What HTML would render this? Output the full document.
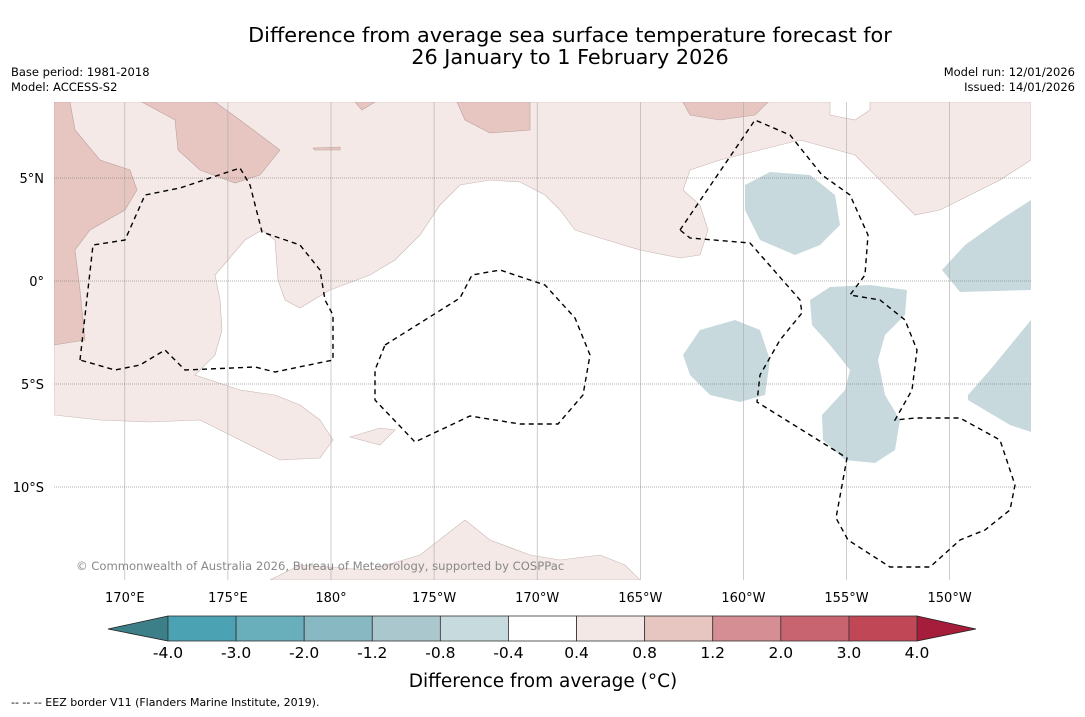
<!DOCTYPE html>
<html><head><meta charset="utf-8"><style>
body{margin:0;background:#fff;font-family:"DejaVu Sans","Liberation Sans",sans-serif}
svg text{font-family:"DejaVu Sans","Liberation Sans",sans-serif}
</style></head><body>
<svg id="s" width="1085" height="713" xmlns="http://www.w3.org/2000/svg">
<rect width="1085" height="713" fill="#fff"/>
<text x="570" y="42" font-size="20.8" text-anchor="middle">Difference from average sea surface temperature forecast for</text>
<text x="570" y="64" font-size="20.8" text-anchor="middle">26 January to 1 February 2026</text>
<text x="11" y="76" font-size="11.5">Base period: 1981-2018</text>
<text x="11" y="91" font-size="11.5">Model: ACCESS-S2</text>
<text x="1075" y="76" font-size="11.5" text-anchor="end">Model run: 12/01/2026</text>
<text x="1075" y="91" font-size="11.5" text-anchor="end">Issued: 14/01/2026</text>
<g id="map"></g>
<g id="cb"></g>
<text x="543" y="687" font-size="18.5" text-anchor="middle">Difference from average (°C)</text>
<text x="11" y="706" font-size="11">--  --  -- EEZ border V11 (Flanders Marine Institute, 2019).</text>
</svg>
<script>
const lonTicks=[170,175,180,185,190,195,200,205,210];
const lonLabels=["170°E","175°E","180°","175°W","170°W","165°W","160°W","155°W","150°W"];
const latTicks=[5,0,-5,-10];
const latLabels=["5°N","0°","5°S","10°S"];
const levels=["-4.0","-3.0","-2.0","-1.2","-0.8","-0.4","0.4","0.8","1.2","2.0","3.0","4.0"];
const levelColors=["#4aa2b2","#68aebb","#88b8c2","#a9c7cc","#c7dadd","#ffffff","#f4e8e6","#e7c5c0","#d68e95","#c8646f","#bf4756"];
const L=54,R=1031,T=102,B=580;
const lonX=l=>331+(l-180)*20.62, latY=l=>281-l*20.6;
const NS="http://www.w3.org/2000/svg";
const map=document.getElementById('map');
function mk(tag,attrs,parent){const e=document.createElementNS(NS,tag);for(const k in attrs)e.setAttribute(k,attrs[k]);parent.appendChild(e);return e;}
const lightPink=[[54,102],[830,102],[830,115],[855,120],[870,110],[870,102],[1031,102],[1031,160],[1000,180],[940,210],[915,215],[900,200],[855,155],[800,140],[760,150],[720,160],[690,170],[683,190],[700,205],[708,230],[700,255],[680,258],[640,250],[600,238],[575,230],[560,210],[545,195],[520,182],[490,180],[460,185],[440,205],[420,235],[395,260],[370,275],[330,290],[300,308],[285,300],[278,280],[275,240],[262,230],[245,240],[228,260],[215,275],[220,300],[222,330],[215,355],[195,375],[240,390],[275,395],[300,405],[320,420],[333,440],[320,458],[280,460],[240,440],[200,420],[150,422],[100,420],[54,415]];
const bottomPink=[[270,580],[300,565],[370,570],[420,555],[465,520],[490,540],[530,555],[560,560],[600,555],[625,565],[640,580]];
const smallPink=[[350,437],[380,428],[395,430],[380,445]];
const darkPink=[[[54,102],[70,102],[75,130],[100,160],[130,170],[137,190],[125,210],[90,230],[75,250],[80,290],[85,340],[54,345]],[[142,102],[215,102],[240,120],[280,150],[260,175],[235,183],[200,170],[178,150],[175,120]],[[355,102],[375,102],[362,110]],[[457,102],[530,102],[530,130],[490,133],[465,120]],[[683,102],[768,102],[755,115],[720,120],[690,115]],[[313,148],[340,147],[340,150],[315,150]]];
const blue=[[[745,185],[770,172],[810,175],[835,195],[840,225],[820,245],[795,255],[760,240],[745,210]],[[683,355],[700,330],[735,320],[760,330],[770,360],[765,395],[740,402],[710,395],[690,375]],[[810,300],[830,287],[870,285],[907,290],[905,315],[885,335],[878,360],[885,395],[900,420],[895,450],[875,463],[845,460],[823,440],[822,415],[845,390],[850,370],[830,345],[812,325]],[[942,270],[965,245],[1000,220],[1031,200],[1031,290],[960,292]],[[968,395],[990,370],[1031,320],[1031,432],[1010,425],[968,400]]];
const eez=[[[80,360],[93,245],[125,240],[145,195],[180,188],[240,168],[250,185],[262,232],[300,245],[320,270],[325,300],[333,315],[333,360],[275,372],[255,367],[185,370],[165,350],[140,365],[115,370],[80,360]],[[385,345],[460,298],[472,275],[500,270],[545,285],[575,318],[590,355],[583,395],[558,424],[520,424],[470,416],[415,442],[375,400],[375,370],[385,345]],[[680,230],[755,120],[790,135],[822,175],[850,195],[868,235],[865,275],[850,295],[880,300],[905,320],[917,350],[912,390],[895,420],[915,418],[960,418],[1000,440],[1015,485],[1010,510],[985,530],[960,540],[930,567],[890,567],[848,540],[836,518],[847,458],[757,402],[760,375],[780,340],[802,313],[800,300],[750,243],[690,238],[680,230]]];
const pts=a=>a.map(p=>p.join(',')).join(' ');
mk('clipPath',{id:'clip'},map);mk('rect',{x:L,y:T,width:R-L,height:B-T},document.getElementById('clip'));
const g=mk('g',{'clip-path':'url(#clip)'},map);
let e=mk('polygon',{points:pts(lightPink),fill:'#f4e9e7',stroke:'#c9b7b4','stroke-width':0.6},g);

[bottomPink,smallPink].forEach(p=>{const q=mk('polygon',{points:pts(p),fill:'#f4e9e7',stroke:'#c9b7b4','stroke-width':0.6},g);

});
darkPink.forEach(p=>{const q=mk('polygon',{points:pts(p),fill:'#e7c6c1',stroke:'#b9a19d','stroke-width':0.6},g);

});
blue.forEach(p=>{const q=mk('polygon',{points:pts(p),fill:'#c7d9dd'},g);

});
lonTicks.forEach((l,i)=>{const x=lonX(l);
const ln=mk('line',{x1:x,x2:x,y1:T,y2:B,stroke:'#aaa','stroke-width':0.6},g);


const t=mk('text',{x:x,y:602,'font-size':13,'text-anchor':'middle'},map);t.textContent=lonLabels[i];

});
latTicks.forEach((l,i)=>{const y=latY(l);
const ln=mk('line',{x1:L,x2:R,y1:y,y2:y,stroke:'#666','stroke-width':0.6,'stroke-dasharray':'1,1'},g);


const t=mk('text',{x:44,y:y+5,'font-size':13,'text-anchor':'end'},map);t.textContent=latLabels[i];

});
eez.forEach(p=>{const q=mk('polyline',{points:pts(p),fill:'none',stroke:'#000','stroke-width':1.4,'stroke-dasharray':'5,4'},g);

});
const cr=mk('text',{x:76,y:570,'font-size':11.6,fill:'#888'},g);cr.textContent="© Commonwealth of Australia 2026, Bureau of Meteorology, supported by COSPPac";


const cb=document.getElementById('cb');
const x0=168,x1=917,cy0=616,cy1=641,n=levelColors.length,w=(x1-x0)/n;
const tl=mk('polygon',{points:`108,629 ${x0},${cy0} ${x0},${cy1}`,fill:'#3d7f88',stroke:'#222','stroke-width':0.8},cb);


const tr=mk('polygon',{points:`976,629 ${x1},${cy0} ${x1},${cy1}`,fill:'#a61d3b',stroke:'#222','stroke-width':0.8},cb);


levelColors.forEach((c,i)=>{const r=mk('rect',{x:x0+i*w,y:cy0,width:w,height:cy1-cy0,fill:c,stroke:'#333','stroke-width':0.8},cb);

});
levels.forEach((v,i)=>{const t=mk('text',{x:x0+i*w,y:658,'font-size':15.5,'text-anchor':'middle'},cb);t.textContent=v;

});
</script>
</body></html>
